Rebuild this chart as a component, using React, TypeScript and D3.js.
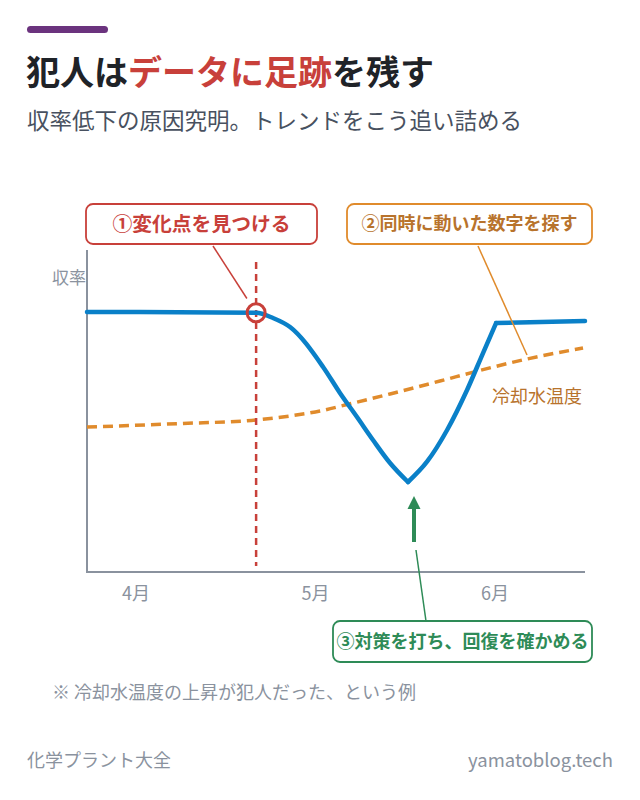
import { useEffect, useRef } from 'react';
import * as d3 from 'd3';

// x is measured in months, 0 = 4月
const monthTicks = [0, 1, 2];
const monthLabels = ['4月', '5月', '6月'];

// 収率 (%) — three pieces so the kinks at the bottom and top stay sharp
const yieldFall: [number, number][] = [
	[-0.273, 92.3],
	[0.669, 92.2],
	[0.763, 91.55],
	[0.858, 90.43],
	[1.042, 85.47],
	[1.136, 82.24],
	[1.231, 79.25],
	[1.32, 76.4],
	[1.415, 73.54],
	[1.515, 71.18],
];
const yieldRise: [number, number][] = [
	[1.515, 71.18],
	[1.621, 73.7],
	[1.733, 77.64],
	[1.844, 82.61],
	[1.933, 87.2],
	[2.006, 90.93],
];
const yieldFlat: [number, number][] = [
	[2.006, 90.93],
	[2.501, 91.18],
];

// 冷却水温度 (°C)
const tempSeries: [number, number][] = [
	[-0.273, 29.0],
	[0.245, 29.22],
	[0.669, 29.44],
	[0.875, 29.72],
	[1.025, 30.0],
	[1.175, 30.4],
	[1.415, 31.06],
	[1.693, 31.86],
	[1.916, 32.52],
	[2.178, 33.23],
	[2.49, 33.91],
];

const changePoint = 0.669;
const recoveryPoint = 1.515;
const tempPointer = 2.178;

const FONT = '"Noto Sans CJK JP", "Noto Sans", sans-serif';
const BLUE = '#0a80c8';
const ORANGE = '#e08b2c';
const ORANGE_TEXT = '#b8732c';
const RED = '#c8403a';
const GREEN = '#2e8b57';
const GRAY = '#8a929e';

export default function App() {
	const svgRef = useRef<SVGSVGElement>(null);

	useEffect(() => {
		if (!svgRef.current) return;
		const svg = d3.select(svgRef.current);
		svg.selectAll('*').remove();

		const left = 87;
		const right = 585;
		const top = 250;
		const bottom = 572;

		const x = d3.scaleLinear().domain([-0.273, 2.501]).range([left, right]);
		const yYield = d3.scaleLinear().domain([60, 100]).range([bottom, top]);
		const yTemp = d3.scaleLinear().domain([20, 40]).range([bottom, top]);

		// Header
		svg
			.append('rect')
			.attr('x', 27)
			.attr('y', 26)
			.attr('width', 81)
			.attr('height', 7)
			.attr('rx', 3.5)
			.attr('fill', '#6b337e');

		const title = svg
			.append('text')
			.attr('x', 26)
			.attr('y', 85)
			.attr('font-family', FONT)
			.attr('font-size', 34)
			.attr('font-weight', 700)
			.attr('fill', '#1f2328');
		title.append('tspan').text('犯人は');
		title.append('tspan').attr('fill', RED).text('データに足跡');
		title.append('tspan').text('を残す');

		svg
			.append('text')
			.attr('x', 27)
			.attr('y', 129)
			.attr('font-family', FONT)
			.attr('font-size', 22.5)
			.attr('fill', '#485160')
			.text('収率低下の原因究明。トレンドをこう追い詰める');

		// Axes
		const axes = svg.append('g').attr('stroke', GRAY).attr('stroke-width', 2);
		axes.append('line').attr('x1', left).attr('x2', left).attr('y1', top).attr('y2', bottom + 1);
		axes.append('line').attr('x1', left).attr('x2', right).attr('y1', bottom).attr('y2', bottom);

		svg
			.append('text')
			.attr('x', 86)
			.attr('y', 284)
			.attr('text-anchor', 'end')
			.attr('font-family', FONT)
			.attr('font-size', 17)
			.attr('fill', GRAY)
			.text('収率');

		svg
			.append('g')
			.selectAll('text')
			.data(monthTicks)
			.join('text')
			.attr('x', (d) => x(d))
			.attr('y', 600)
			.attr('text-anchor', 'middle')
			.attr('font-family', FONT)
			.attr('font-size', 18)
			.attr('fill', GRAY)
			.text((_, i) => monthLabels[i]);

		// Temperature line
		const tempLine = d3
			.line<[number, number]>()
			.x((d) => x(d[0]))
			.y((d) => yTemp(d[1]))
			.curve(d3.curveMonotoneX);
		svg
			.append('path')
			.datum(tempSeries)
			.attr('fill', 'none')
			.attr('stroke', ORANGE)
			.attr('stroke-width', 3.5)
			.attr('stroke-dasharray', '10 6')
			.attr('d', tempLine);

		svg
			.append('text')
			.attr('x', 582)
			.attr('y', 403)
			.attr('text-anchor', 'end')
			.attr('font-family', FONT)
			.attr('font-size', 18)
			.attr('fill', ORANGE_TEXT)
			.text('冷却水温度');

		// Change point marker
		const cx = x(changePoint);
		svg
			.append('line')
			.attr('x1', cx)
			.attr('x2', cx)
			.attr('y1', 262)
			.attr('y2', 566)
			.attr('stroke', RED)
			.attr('stroke-width', 2.5)
			.attr('stroke-dasharray', '7 5');

		// Yield line
		const yieldLine = d3
			.line<[number, number]>()
			.x((d) => x(d[0]))
			.y((d) => yYield(d[1]))
			.curve(d3.curveMonotoneX);
		[yieldFall, yieldRise, yieldFlat].forEach((seg) => {
			svg
				.append('path')
				.datum(seg)
				.attr('fill', 'none')
				.attr('stroke', BLUE)
				.attr('stroke-width', 4.5)
				.attr('stroke-linejoin', 'round')
				.attr('stroke-linecap', 'round')
				.attr('d', yieldLine);
		});

		const changeVal = yieldFall.find((d) => d[0] === changePoint)![1];
		const cy = yYield(changeVal);
		svg
			.append('circle')
			.attr('cx', cx)
			.attr('cy', cy)
			.attr('r', 9)
			.attr('fill', 'none')
			.attr('stroke', RED)
			.attr('stroke-width', 3);

		// Callouts
		const callout = (
			x0: number,
			y0: number,
			w: number,
			h: number,
			stroke: string,
			color: string,
			label: string,
			size = 18
		) => {
			svg
				.append('rect')
				.attr('x', x0)
				.attr('y', y0)
				.attr('width', w)
				.attr('height', h)
				.attr('rx', 7)
				.attr('fill', '#fff')
				.attr('stroke', stroke)
				.attr('stroke-width', 1.8);
			svg
				.append('text')
				.attr('x', x0 + w / 2)
				.attr('y', y0 + h / 2 + size * 0.36)
				.attr('text-anchor', 'middle')
				.attr('font-family', FONT)
				.attr('font-size', size)
				.attr('font-weight', 700)
				.attr('fill', color)
				.text(label);
		};

		// ① leader stops short of the circle
		const s1: [number, number] = [213, 246];
		const dx = cx - s1[0];
		const dy = cy - s1[1];
		const len = Math.hypot(dx, dy);
		const stop = 17;
		svg
			.append('line')
			.attr('x1', s1[0])
			.attr('y1', s1[1])
			.attr('x2', cx - (dx / len) * stop)
			.attr('y2', cy - (dy / len) * stop)
			.attr('stroke', RED)
			.attr('stroke-width', 1.5);
		callout(86, 204, 231, 40, RED, RED, '①変化点を見つける', 19.8);

		const tempVal = tempSeries.find((d) => d[0] === tempPointer)![1];
		svg
			.append('line')
			.attr('x1', 478)
			.attr('y1', 246)
			.attr('x2', x(tempPointer))
			.attr('y2', yTemp(tempVal) - 4)
			.attr('stroke', ORANGE)
			.attr('stroke-width', 1.5);
		callout(347, 204, 245, 40, ORANGE, ORANGE_TEXT, '②同時に動いた数字を探す');

		// ③ arrow pointing at the bottom of the dip
		const minVal = yieldFall[yieldFall.length - 1][1];
		const ax = x(recoveryPoint) + 6;
		const tipY = yYield(minVal) + 14;
		svg
			.append('line')
			.attr('x1', ax)
			.attr('x2', ax)
			.attr('y1', tipY + 10)
			.attr('y2', tipY + 46)
			.attr('stroke', GREEN)
			.attr('stroke-width', 4);
		svg
			.append('path')
			.attr('d', `M${ax},${tipY} L${ax - 6.5},${tipY + 13} L${ax + 6.5},${tipY + 13} Z`)
			.attr('fill', GREEN);
		svg
			.append('line')
			.attr('x1', ax + 2)
			.attr('y1', tipY + 54)
			.attr('x2', ax + 12)
			.attr('y2', 621)
			.attr('stroke', GREEN)
			.attr('stroke-width', 1.5);
		callout(333, 621, 259, 41, GREEN, GREEN, '③対策を打ち、回復を確かめる');

		// Footnote and footer
		svg
			.append('text')
			.attr('x', 52)
			.attr('y', 699)
			.attr('font-family', FONT)
			.attr('font-size', 18)
			.attr('fill', GRAY)
			.text('※ 冷却水温度の上昇が犯人だった、という例');

		svg
			.append('text')
			.attr('x', 27)
			.attr('y', 767)
			.attr('font-family', FONT)
			.attr('font-size', 18)
			.attr('fill', GRAY)
			.text('化学プラント大全');

		svg
			.append('text')
			.attr('x', 613)
			.attr('y', 767)
			.attr('text-anchor', 'end')
			.attr('font-family', FONT)
			.attr('font-size', 18.5)
			.attr('fill', GRAY)
			.text('yamatoblog.tech');
	}, []);

	return (
		<div style={{ position: 'absolute', left: 0, top: 0, width: 640, height: 800, background: '#fff' }}>
			<svg ref={svgRef} width={640} height={800}></svg>
		</div>
	);
}
